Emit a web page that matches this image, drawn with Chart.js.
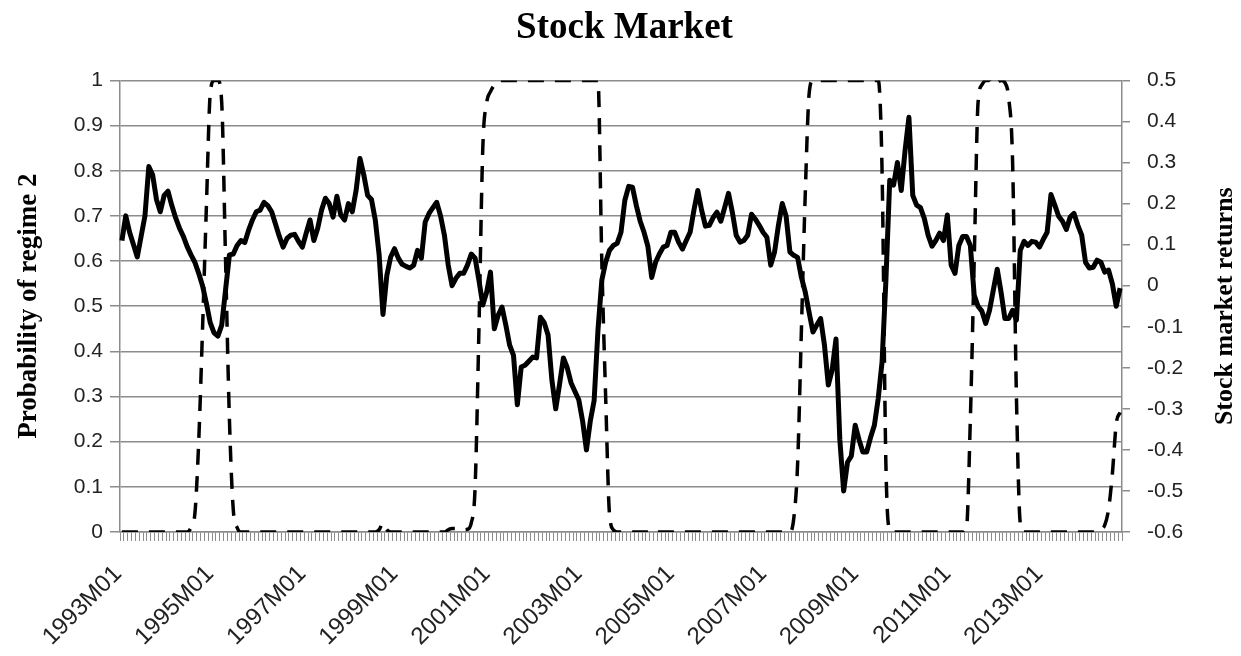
<!DOCTYPE html>
<html>
<head>
<meta charset="utf-8">
<title>Stock Market</title>
<script src="https://cdn.jsdelivr.net/npm/chart.js@4.4.1/dist/chart.umd.min.js"></script>
<style>
  html, body { margin: 0; padding: 0; background: #fff; }
  #wrap { width: 1241px; height: 656px; }
</style>
</head>
<body>
<div id="wrap"><canvas id="stockChart" width="1241" height="656"></canvas></div>
<script>
// Stock market: regime-2 probability (dashed, left) vs returns (solid, right)

const START_YEAR = 1993;
const N_MONTHS = 261; // 1993M01 .. 2014M09

const X_TICK_LABELS = ['1993M01', '1995M01', '1997M01', '1999M01', '2001M01', '2003M01',
  '2005M01', '2007M01', '2009M01', '2011M01', '2013M01'];
const PROB_TICKS = [0, 0.1, 0.2, 0.3, 0.4, 0.5, 0.6, 0.7, 0.8, 0.9, 1];
const RET_TICKS = [-0.6, -0.5, -0.4, -0.3, -0.2, -0.1, 0, 0.1, 0.2, 0.3, 0.4, 0.5];

// monthly stock market returns, one row per year
const returns = [
  0.11, 0.17, 0.13, 0.10, 0.07, 0.12, 0.17, 0.29, 0.27, 0.21, 0.18, 0.22,
  0.23, 0.195, 0.165, 0.14, 0.12, 0.095, 0.075, 0.057, 0.03, 0.00, -0.043, -0.09,
  -0.115, -0.123, -0.096, -0.01, 0.075, 0.077, 0.098, 0.11, 0.105, 0.135, 0.16, 0.18,
  0.184, 0.203, 0.195, 0.18, 0.15, 0.12, 0.094, 0.115, 0.123, 0.125, 0.108, 0.094,
  0.128, 0.16, 0.11, 0.14, 0.184, 0.213, 0.2, 0.167, 0.218, 0.172, 0.16, 0.2,
  0.18, 0.232, 0.31, 0.27, 0.22, 0.21, 0.16, 0.075, -0.07, 0.025, 0.07, 0.09,
  0.067, 0.052, 0.047, 0.043, 0.05, 0.086, 0.067, 0.155, 0.176, 0.19, 0.203, 0.17,
  0.123, 0.05, 0.0, 0.018, 0.03, 0.03, 0.05, 0.077, 0.067, 0.013, -0.047, -0.016,
  0.033, -0.105, -0.072, -0.052, -0.096, -0.145, -0.17, -0.29, -0.198, -0.194, -0.184, -0.174,
  -0.176, -0.077, -0.09, -0.12, -0.23, -0.30, -0.24, -0.176, -0.2, -0.237, -0.258, -0.278,
  -0.33, -0.40, -0.33, -0.28, -0.108, 0.013, 0.057, 0.086, 0.098, 0.103, 0.13, 0.208,
  0.242, 0.24, 0.195, 0.157, 0.13, 0.096, 0.02, 0.057, 0.077, 0.094, 0.098, 0.13,
  0.13, 0.106, 0.089, 0.11, 0.13, 0.184, 0.232, 0.184, 0.145, 0.147, 0.166, 0.179,
  0.157, 0.19, 0.225, 0.179, 0.123, 0.106, 0.11, 0.123, 0.174, 0.162, 0.147, 0.13,
  0.118, 0.05, 0.082, 0.147, 0.2, 0.17, 0.082, 0.074, 0.069, 0.02, -0.016, -0.065,
  -0.113, -0.096, -0.08, -0.145, -0.242, -0.205, -0.13, -0.375, -0.5, -0.43, -0.415, -0.34,
  -0.375, -0.405, -0.405, -0.37, -0.34, -0.275, -0.186, 0.013, 0.257, 0.245, 0.30, 0.232,
  0.33, 0.41, 0.22, 0.196, 0.19, 0.164, 0.123, 0.096, 0.11, 0.128, 0.11, 0.172,
  0.05, 0.03, 0.098, 0.12, 0.12, 0.098, -0.023, -0.05, -0.062, -0.092, -0.06, -0.01,
  0.04, -0.016, -0.08, -0.08, -0.06, -0.084, 0.086, 0.108, 0.098, 0.108, 0.106, 0.094,
  0.113, 0.13, 0.222, 0.196, 0.169, 0.157, 0.137, 0.167, 0.176, 0.147, 0.123, 0.057,
  0.043, 0.045, 0.062, 0.057, 0.033, 0.038, 0.004, -0.05, -0.006
];

// smoothed probability of regime 2, one row per year
const probRegime2 = [
  0, 0, 0, 0, 0, 0, 0, 0, 0, 0, 0, 0,
  0, 0, 0, 0, 0, 0, 0.01, 0.04, 0.2, 0.45, 0.72, 0.97,
  1, 1, 0.95, 0.6, 0.25, 0.05, 0.01, 0, 0, 0, 0, 0,
  0, 0, 0, 0, 0, 0, 0, 0, 0, 0, 0, 0,
  0, 0, 0, 0, 0, 0, 0, 0, 0, 0, 0, 0,
  0, 0, 0, 0, 0, 0, 0, 0.005, 0.02, 0.005, 0, 0,
  0, 0, 0, 0, 0, 0, 0, 0, 0, 0, 0, 0,
  0, 0.005, 0.008, 0.008, 0.005, 0.005, 0.006, 0.02, 0.1, 0.45, 0.85, 0.95,
  0.975, 0.99, 1, 1, 1, 1, 1, 1, 1, 1, 1, 1,
  1, 1, 1, 1, 1, 1, 1, 1, 1, 1, 1, 1,
  1, 1, 1, 1, 1, 0.6, 0.3, 0.04, 0.005, 0, 0, 0,
  0, 0, 0, 0, 0, 0, 0.005, 0, 0, 0, 0, 0,
  0, 0, 0, 0, 0, 0, 0, 0, 0, 0, 0, 0,
  0, 0, 0, 0, 0, 0, 0, 0, 0, 0, 0, 0,
  0, 0, 0, 0, 0, 0, 0, 0.03, 0.15, 0.45, 0.75, 0.97,
  1, 1, 1, 1, 1, 1, 1, 1, 1, 1, 1, 1,
  1, 1, 1, 1, 1, 1, 0.8, 0.15, 0.005, 0, 0, 0,
  0, 0, 0, 0, 0, 0, 0, 0, 0, 0, 0, 0,
  0, 0, 0, 0, 0.01, 0.25, 0.6, 0.95, 0.99, 1, 1, 0.99,
  0.995, 1, 0.995, 0.96, 0.82, 0.3, 0.02, 0, 0, 0, 0, 0,
  0, 0, 0, 0, 0, 0, 0, 0, 0, 0, 0, 0,
  0, 0, 0, 0.005, 0.015, 0.05, 0.13, 0.24, 0.265
];

const TITLE = 'Stock Market';
const LEFT_TITLE = 'Probability of regime 2';
const RIGHT_TITLE = 'Stock market returns';

const months = [];
for (let i = 0; i < N_MONTHS; i++) {
  const y = START_YEAR + Math.floor(i / 12);
  const m = (i % 12) + 1;
  months.push(`${y}M${m < 10 ? '0' + m : m}`);
}

const GRID = '#8c8c8c';
const TEXT = '#222';
const SERIF = '"Liberation Serif", "Times New Roman", serif';
const SANS = '"Liberation Sans", Arial, sans-serif';

const fmt = v => String(Number(v.toFixed(1)));

// Excel-style secondary axis title, reading bottom to top
const rightTitlePlugin = {
  id: 'rightTitle',
  afterDraw(chart) {
    const { ctx, chartArea } = chart;
    ctx.save();
    ctx.font = `bold 26px ${SERIF}`;
    ctx.fillStyle = '#000';
    ctx.textAlign = 'center';
    ctx.textBaseline = 'middle';
    ctx.translate(chart.width - 16, (chartArea.top + chartArea.bottom) / 2);
    ctx.rotate(-Math.PI / 2);
    ctx.fillText(RIGHT_TITLE, 0, 0);
    ctx.restore();
  }
};

new Chart(document.getElementById('stockChart'), {
  type: 'line',
  data: {
    labels: months,
    datasets: [
      {
        label: 'Stock market returns',
        data: returns,
        yAxisID: 'yRet',
        borderColor: '#000',
        borderWidth: 5,
        pointRadius: 0,
        tension: 0,
        borderJoinStyle: 'round'
      },
      {
        label: 'Probability of regime 2',
        data: probRegime2,
        yAxisID: 'yProb',
        borderColor: '#000',
        borderWidth: 3.5,
        borderDash: [16, 11],
        pointRadius: 0,
        cubicInterpolationMode: 'monotone'
      }
    ]
  },
  options: {
    responsive: false,
    animation: false,
    layout: { padding: { left: 8, right: 0, top: 4, bottom: 0 } },
    plugins: {
      legend: { display: false },
      tooltip: { enabled: false },
      title: {
        display: true,
        text: TITLE,
        color: '#000',
        font: { family: SERIF, size: 37, weight: 'bold' },
        padding: { top: 2, bottom: 30 }
      }
    },
    scales: {
      x: {
        type: 'category',
        offset: true,
        grid: { offset: true, drawOnChartArea: false, drawTicks: true, tickLength: 9, color: GRID },
        border: { display: true, color: GRID, width: 1.5 },
        ticks: {
          autoSkip: false,
          minRotation: 45,
          maxRotation: 45,
          padding: 19,
          labelOffset: -4,
          color: TEXT,
          font: { family: SANS, size: 24 },
          callback(val) {
            const lab = this.getLabelForValue(val);
            return X_TICK_LABELS.includes(lab) ? lab : '';
          }
        },
        afterFit(scale) { scale.height = 124; }
      },
      yProb: {
        position: 'left',
        min: 0,
        max: 1,
        afterBuildTicks(scale) { scale.ticks = PROB_TICKS.map(v => ({ value: v })); },
        grid: { color: GRID, lineWidth: 1.5, tickLength: 10 },
        border: { display: true, color: GRID, width: 1.5 },
        ticks: {
          padding: 7,
          color: TEXT,
          font: { family: SANS, size: 21 },
          callback: v => fmt(v)
        },
        title: {
          display: true,
          text: LEFT_TITLE,
          color: '#000',
          font: { family: SERIF, size: 27, weight: 'bold' },
          padding: { top: 5, bottom: 4 }
        },
        afterFit(scale) { scale.width = 112; }
      },
      yRet: {
        position: 'right',
        min: -0.6,
        max: 0.5,
        afterBuildTicks(scale) { scale.ticks = RET_TICKS.map(v => ({ value: v })); },
        grid: { drawOnChartArea: false, color: GRID, lineWidth: 1.5, tickLength: 8 },
        border: { display: true, color: GRID, width: 1.5 },
        ticks: {
          padding: 17,
          color: TEXT,
          font: { family: SANS, size: 21 },
          callback: v => fmt(v)
        },
        afterFit(scale) { scale.width = 119; }
      }
    }
  },
  plugins: [rightTitlePlugin]
});
</script>
</body>
</html>
